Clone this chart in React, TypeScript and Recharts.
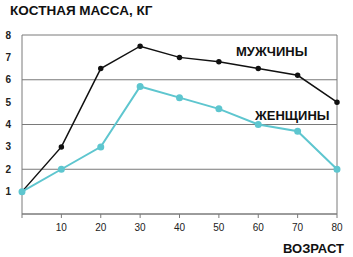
import { CartesianGrid, Line, LineChart, ReferenceLine, XAxis, YAxis } from "recharts";

const ages = [0, 10, 20, 30, 40, 50, 60, 70, 80];
const men = [1, 3, 6.5, 7.5, 7, 6.8, 6.5, 6.2, 5];
const women = [1, 2, 3, 5.7, 5.2, 4.7, 4.0, 3.7, 2];
const yTicks = [1, 2, 3, 4, 5, 6, 7, 8];

const data = ages.map((a, i) => ({ age: a, men: men[i], women: women[i] }));

const font = "'Liberation Sans', Arial, sans-serif";

const labelStyle: React.CSSProperties = {
  position: "absolute",
  fontFamily: font,
  fontWeight: 700,
  fontSize: 13,
  color: "#111",
  whiteSpace: "nowrap",
};

export default function App() {
  return (
    <div style={{ position: "absolute", left: 0, top: 0, width: 353, height: 257, background: "#fff" }}>
      <LineChart
        width={353}
        height={257}
        data={data}
        margin={{ top: 35, right: 16, left: 2, bottom: 0 }}
      >
        <CartesianGrid vertical={false} stroke="#7a7a7a" strokeWidth={1} />
        <XAxis
          dataKey="age"
          type="number"
          domain={[0, 80]}
          ticks={ages}
          tickFormatter={(v) => (v === 0 ? "" : String(v))}
          height={43}
          stroke="#7a7a7a"
          tickSize={4}
          tick={{ fontSize: 10, fill: "#222", fontFamily: font }}
          tickMargin={6}
        />
        <YAxis
          type="number"
          domain={[0, 8]}
          ticks={yTicks}
          width={20}
          stroke="#7a7a7a"
          tickLine={false}
          tick={{ fontSize: 10, fill: "#222", fontFamily: font, fontWeight: 700 }}
          tickMargin={5}
        />
        <ReferenceLine x={80} stroke="#7a7a7a" />
        <Line
          dataKey="men"
          stroke="#111"
          strokeWidth={1.5}
          dot={{ r: 2, fill: "#111", stroke: "#111" }}
          isAnimationActive={false}
        />
        <Line
          dataKey="women"
          stroke="#5ec6cf"
          strokeWidth={2}
          dot={{ r: 2.5, fill: "#5ec6cf", stroke: "#5ec6cf" }}
          isAnimationActive={false}
        />
      </LineChart>
      <div style={{ ...labelStyle, left: 10, top: 3, fontSize: 13.5 }}>КОСТНАЯ МАССА, КГ</div>
      <div style={{ ...labelStyle, left: 236, top: 44 }}>МУЖЧИНЫ</div>
      <div style={{ ...labelStyle, left: 255, top: 108 }}>ЖЕНЩИНЫ</div>
      <div style={{ ...labelStyle, left: 283, top: 241 }}>ВОЗРАСТ</div>
    </div>
  );
}
